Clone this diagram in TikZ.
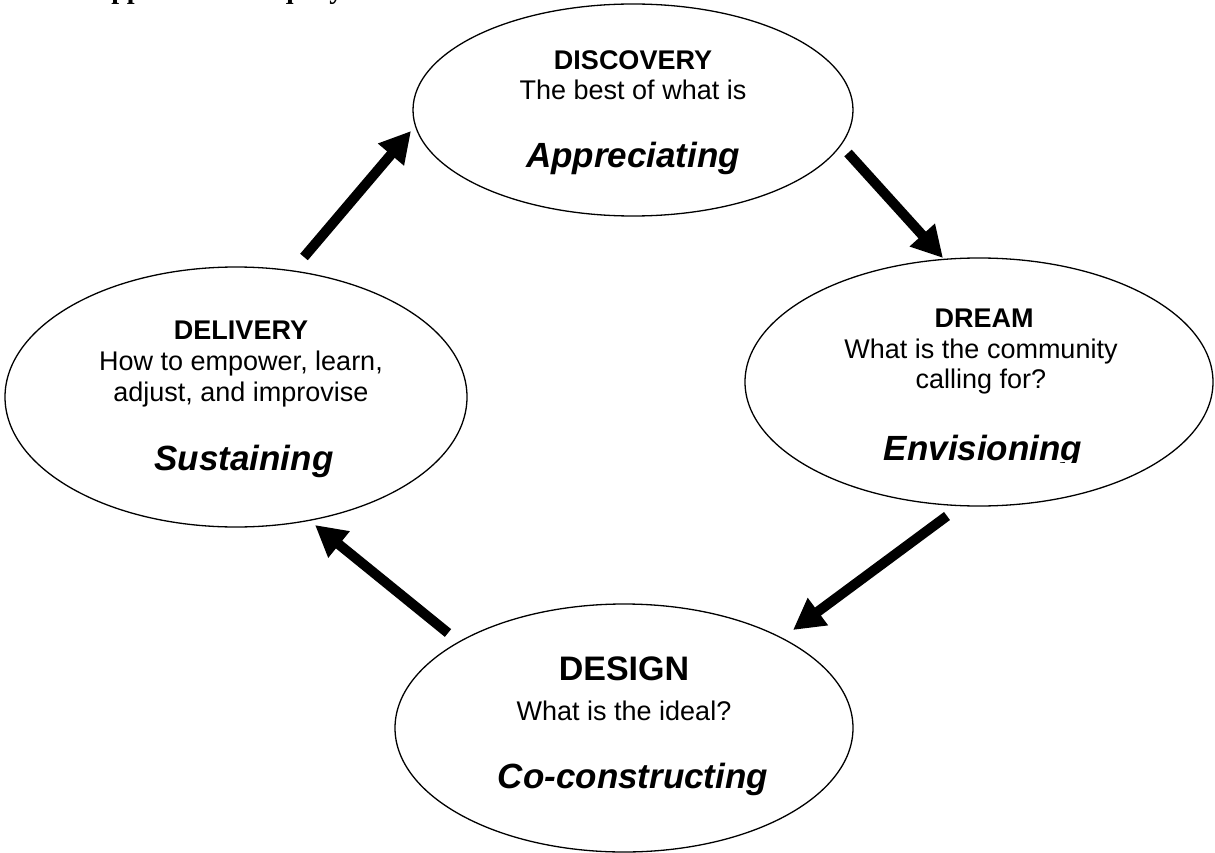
\documentclass[tikz,border=0pt]{standalone}
\usepackage{fontspec}
\setmainfont{Liberation Sans}
\newfontfamily\serifcap{Liberation Serif}
\usetikzlibrary{arrows.meta,shapes.geometric}
\begin{document}
\begin{tikzpicture}[x=1pt,y=-1pt,
  phase/.style={draw, line width=1.3pt, ellipse, inner sep=0pt},
  ttl/.style={anchor=base, inner sep=0pt, font=\fontsize{27}{32}\selectfont\bfseries},
  sub/.style={anchor=base, inner sep=0pt, font=\fontsize{27}{32}\selectfont},
  act/.style={anchor=base, inner sep=0pt, font=\fontsize{35}{40}\selectfont\bfseries\itshape},
  flow/.style={line width=10pt, -{Triangle[length=31pt,width=32pt]}}]
\useasboundingbox (0,0) rectangle (1215,853);
\fill[white] (0,0) rectangle (1215,853);

% cut-off caption at the top edge
\node[anchor=base west, inner sep=0pt, font=\serifcap\bfseries\fontsize{28}{30}\selectfont] (cap) at (91,-1.5) {Appreciative Inquiry};

% ellipses
\node[phase, minimum width=440pt, minimum height=212pt] (disc) at (633,110) {};
\node[phase, minimum width=462pt, minimum height=260pt] (deliv) at (236,397) {};
\node[phase, minimum width=468pt, minimum height=248pt] (dream) at (979,382) {};
\node[phase, minimum width=458pt, minimum height=248pt] (design) at (624,728) {};

% Discovery
\node[ttl] (discT) at (633,70) {DISCOVERY};
\node[sub] (discS) at (633,100) {The best of what is};
\node[act] (discA) at (633,168) {Appreciating};

% Delivery
\node[ttl] (delT) at (241,339) {DELIVERY};
\node[sub] (delS1) at (241,370) {How to empower, learn,};
\node[sub] (delS2) at (241,401) {adjust, and improvise};
\node[act] (delA) at (244,470) {Sustaining};

% Dream
\node[ttl] (drT) at (984,327) {DREAM};
\node[sub] (drS1) at (981,358) {What is the community};
\node[sub] (drS2) at (981,388) {calling for?};
\begin{scope}
\clip (850,400) rectangle (1120,462);
\node[act] (drA) at (983,460) {Envisioning};
\end{scope}

% Design
\node[ttl, font=\fontsize{34}{40}\selectfont\bfseries] (desT) at (624,680) {DESIGN};
\node[sub] (desS) at (624,720) {What is the ideal?};
\node[act] (desA) at (633,788) {Co-constructing};

% arrows
\coordinate (a1s) at (304,257); \coordinate (a1e) at (411,131);
\coordinate (a2s) at (848,153); \coordinate (a2e) at (943,258);
\coordinate (a3s) at (947,516); \coordinate (a3e) at (793,630);
\coordinate (a4s) at (448,633); \coordinate (a4e) at (315,525);
\draw[flow] (a1s) -- (a1e);
\draw[flow] (a2s) -- (a2e);
\draw[flow] (a3s) -- (a3e);
\draw[flow] (a4s) -- (a4e);
\end{tikzpicture}
\end{document}
